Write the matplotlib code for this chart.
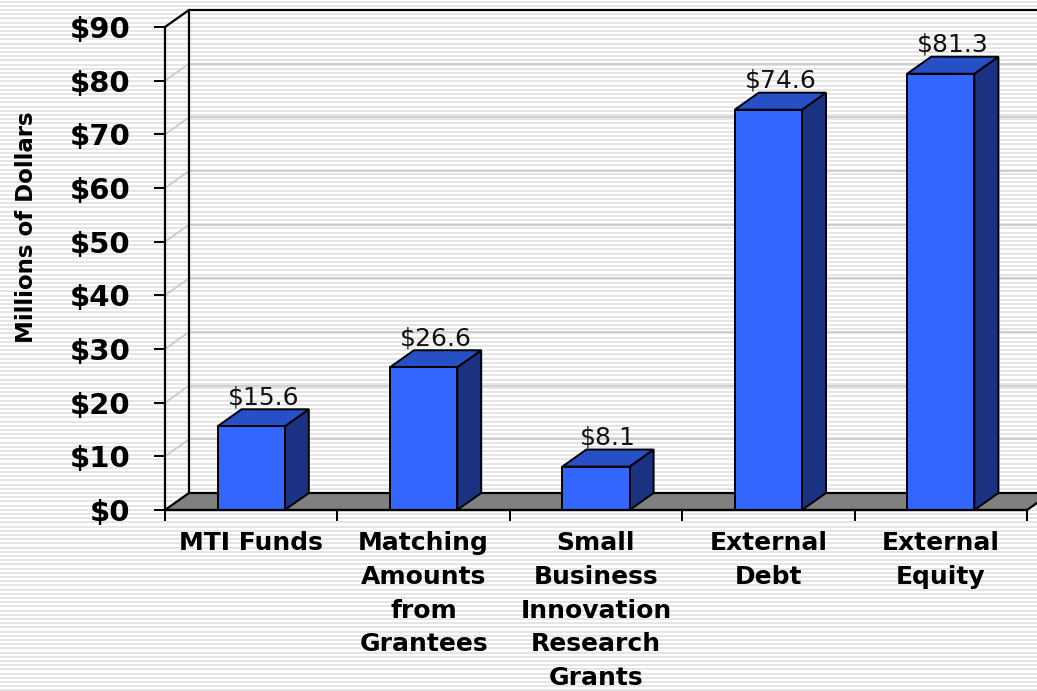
import matplotlib
matplotlib.use('Agg')
import matplotlib.pyplot as plt
from matplotlib.patches import Polygon
import numpy as np

# chart data
categories = ['MTI Funds', 'Matching\nAmounts\nfrom\nGrantees',
              'Small\nBusiness\nInnovation\nResearch\nGrants',
              'External\nDebt', 'External\nEquity']
values = [15.6, 26.6, 8.1, 74.6, 81.3]
y_ticks = [0, 10, 20, 30, 40, 50, 60, 70, 80, 90]
y_tick_labels = ['$%d' % t for t in y_ticks]

FRONT = '#3366ff'
TOP = '#2850c6'
SIDE = '#1b3282'
FLOOR = '#808080'
GRID = '#c8c8c8'

W, H = 1037, 691
fig = plt.figure(figsize=(W / 100, H / 100), dpi=100)
fig.patch.set_facecolor('white')

# striped slide background
bg = fig.add_axes([0, 0, 1, 1], zorder=-10)
bg.set_xlim(0, W)
bg.set_ylim(H, 0)
bg.axis('off')
for yy in np.arange(1.5, H, 4.2):
    bg.axhline(yy, color='#dedede', lw=1.1)

# front plane of the 3D box
ax = fig.add_axes([165 / W, (H - 510) / H, 862 / W, 483 / H])
ax.patch.set_alpha(0)
n = len(values)
ax.set_xlim(0, n)
ax.set_ylim(0, 90)

# depth offset in data units (24 px right, 17 px up)
dx = 24 / (862 / n)
dy = 17 / (483 / 90)
bar_w = 0.39

# back wall gridlines and side wall diagonals
for t in y_ticks:
    ax.plot([dx, n + dx], [t + dy, t + dy], color=GRID, lw=1.2, clip_on=False, zorder=1)
    ax.plot([0, dx], [t, t + dy], color=GRID, lw=1.2, clip_on=False, zorder=1)
# box outline
ax.plot([0, dx, n + dx + 1], [90, 90 + dy, 90 + dy], color='black', lw=1.6, clip_on=False, zorder=2)
ax.plot([dx, dx], [dy, 90 + dy], color='black', lw=1.6, clip_on=False, zorder=2)

# floor
floor = Polygon([(0, 0), (n, 0), (n + dx, dy), (dx, dy)], closed=True,
                facecolor=FLOOR, edgecolor='black', lw=1.6, clip_on=False, zorder=3)
ax.add_patch(floor)

# 3D bars
for i, v in enumerate(values):
    x0 = i + 0.5 - bar_w / 2
    x1 = i + 0.5 + bar_w / 2
    side = Polygon([(x1, 0), (x1 + dx, dy), (x1 + dx, v + dy), (x1, v)],
                   facecolor=SIDE, edgecolor='black', lw=1.4, clip_on=False, zorder=4)
    top = Polygon([(x0, v), (x1, v), (x1 + dx, v + dy), (x0 + dx, v + dy)],
                  facecolor=TOP, edgecolor='black', lw=1.4, clip_on=False, zorder=4)
    front = Polygon([(x0, 0), (x1, 0), (x1, v), (x0, v)],
                    facecolor=FRONT, edgecolor='black', lw=1.4, clip_on=False, zorder=5)
    for p in (side, top, front):
        ax.add_patch(p)
    ax.annotate('$%.1f' % v, xy=(i + 0.5 + dx / 2, v + dy), xytext=(0, 0),
                textcoords='offset points', ha='center', va='bottom',
                fontsize=18, color='#111111', zorder=6, annotation_clip=False)

# axes styling
for s in ['top', 'right']:
    ax.spines[s].set_visible(False)
ax.spines['left'].set_linewidth(1.6)
ax.spines['bottom'].set_linewidth(1.6)
ax.spines['left'].set_zorder(6)
ax.spines['bottom'].set_zorder(6)

ax.set_yticks(y_ticks)
ax.set_yticklabels(y_tick_labels, fontsize=21, fontweight='bold')
ax.tick_params(axis='y', length=8, width=1.4, pad=17)

ax.set_xticks(range(n + 1))
ax.set_xticklabels([])
ax.set_xticks(np.arange(n) + 0.5, minor=True)
ax.set_xticklabels(categories, minor=True, fontsize=18, fontweight='bold',
                   linespacing=1.52)
ax.tick_params(axis='x', which='major', length=8, width=1.4)
ax.tick_params(axis='x', which='minor', length=0, pad=15)

fig.text(27 / W, 1 - 227 / H, 'Millions of Dollars', rotation=90,
         ha='center', va='center', fontsize=16.5, fontweight='bold')

fig.savefig('out.png', dpi=100)
